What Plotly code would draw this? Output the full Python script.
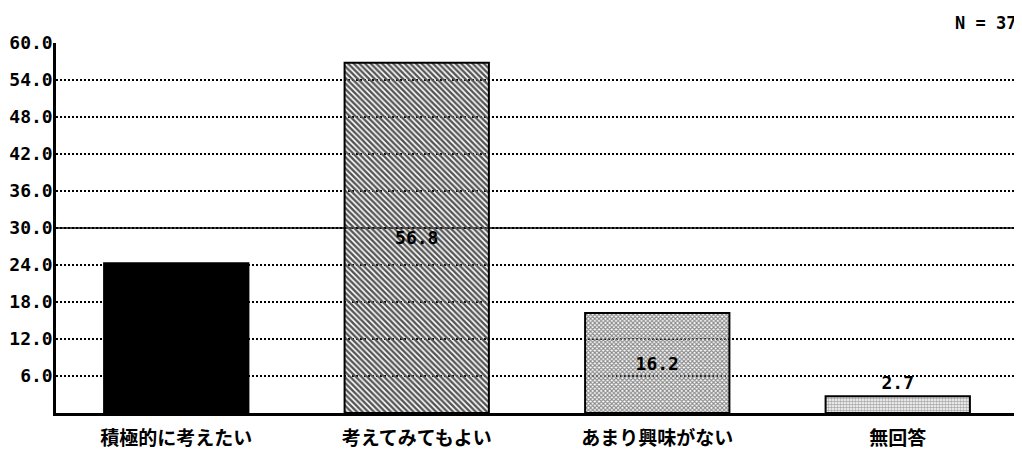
import plotly.graph_objects as go

categories = ["積極的に考えたい", "考えてみてもよい", "あまり興味がない", "無回答"]
values = [24.3, 56.8, 16.2, 2.7]
y_ticks = [6, 12, 18, 24, 30, 36, 42, 48, 54, 60]
n_label = "N = 37"

CJK = "Noto Sans CJK JP"
MONO = "DejaVu Sans Mono"

fig = go.Figure()
fig.add_trace(go.Bar(
    x=categories,
    y=values,
    width=0.6,
    marker=dict(
        color=["#000000", "#555555", "#888888", "#aaaaaa"],
        line=dict(color="black", width=2),
        pattern=dict(
            shape=["", "\\", "x", "."],
            fgcolor=["#000000", "#000000", "#000000", "#000000"],
            bgcolor=["#000000", "#ffffff", "#ffffff", "#ffffff"],
            size=[4, 4, 3, 3],
            solidity=[0.5, 0.6, 0.6, 0.55],
            fillmode="replace",
        ),
    ),
    texttemplate="%{y:.1f}",
    textposition=["inside", "inside", "inside", "outside"],
    insidetextanchor="middle",
    constraintext="none",
    textangle=0,
    textfont=dict(family=MONO, size=18, color="black", weight="bold"),
    cliponaxis=False,
    showlegend=False,
))

fig.add_hline(y=30, line=dict(color="black", width=1.5), layer="below")

fig.update_layout(
    width=1014, height=442,
    margin=dict(l=48, r=4, t=35, b=37),
    paper_bgcolor="white", plot_bgcolor="white",
    bargap=0.4,
    font=dict(family=MONO, size=18, color="black", weight="bold"),
    xaxis=dict(
        showline=True, linecolor="black", linewidth=2.5,
        showgrid=False, ticks="", ticklabelstandoff=6, automargin=False,
        tickfont=dict(family=CJK, size=19, weight="bold"),
        fixedrange=True,
    ),
    yaxis=dict(
        range=[0, 60], tickvals=y_ticks, tickformat=".1f",
        showline=True, linecolor="black", linewidth=2.5,
        showgrid=True, gridcolor="black", gridwidth=1.5, griddash="2px,2px",
        ticks="", ticklen=0, ticklabelstandoff=-3, automargin=False,
        tickfont=dict(family=MONO, size=18, weight="bold"),
        zeroline=False,
    ),
    annotations=[dict(
        text=n_label, xref="paper", yref="paper", x=1.0, y=1.0,
        xanchor="right", yanchor="bottom", yshift=8, showarrow=False,
        font=dict(family=MONO, size=17, weight="bold"),
    )],
)

fig.write_html("out.html")
